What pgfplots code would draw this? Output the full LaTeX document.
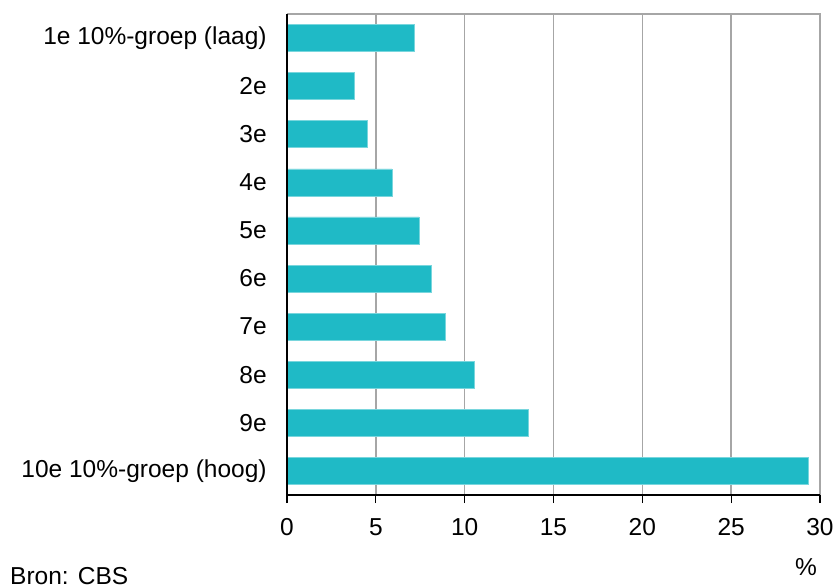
\documentclass[border=0pt]{standalone}
\usepackage{pgfplots}
\pgfplotsset{compat=1.18}
\usepackage{fontspec}
\setmainfont{Liberation Sans}
\definecolor{barc}{HTML}{1FBAC6}
\definecolor{gridc}{HTML}{A6A6A6}
\begin{document}
\fontsize{24.5bp}{29bp}\selectfont
\begin{tikzpicture}
\useasboundingbox (-287bp,-93bp) rectangle (547bp,495bp);
\begin{axis}[
  at={(0,0)}, anchor=south west,
  scale only axis,
  width=533bp, height=481bp,
  xbar, bar width=27bp,
  xmin=0, xmax=30,
  ymin=-0.5, ymax=9.5,
  y dir=reverse,
  xtick={0,5,...,30},
  ytick={0,...,9},
  yticklabels={1e 10\%-groep (laag),2e,3e,4e,5e,6e,7e,8e,9e,10e 10\%-groep (hoog)},
  axis line style={draw=none},
  xmajorgrids, grid style={gridc, line width=1.5bp},
  major tick length=8bp,
  xtick style={black, line width=1.2bp},
  ytick style={draw=none},
  xtick pos=bottom,
  tick align=outside,
  yticklabel style={xshift=-4bp},
  xticklabel style={yshift=-7bp},
  /pgf/number format/assume math mode=true,
  ticklabel style={font=\fontsize{24.5bp}{29bp}\selectfont},
  clip=false,
]
\addplot[fill=barc, draw=barc!60!white, line width=0.6bp] coordinates {
(7.18,0) (3.77,1) (4.52,2) (5.9,3) (7.42,4) (8.15,5) (8.92,6) (10.57,7) (13.6,8) (29.33,9)};
\draw[gridc, line width=1.5bp] (rel axis cs:0,1) -- (rel axis cs:1,1) -- (rel axis cs:1,0);
\draw[black, line width=1.4bp] (rel axis cs:0,1) -- (rel axis cs:0,0) -- (rel axis cs:1,0);
\end{axis}
\node[anchor=base] at (519bp,-80bp) {\%};
\node[anchor=base west, inner sep=0pt] at (-277bp,-89bp) {Bron: CBS};
\end{tikzpicture}
\end{document}
